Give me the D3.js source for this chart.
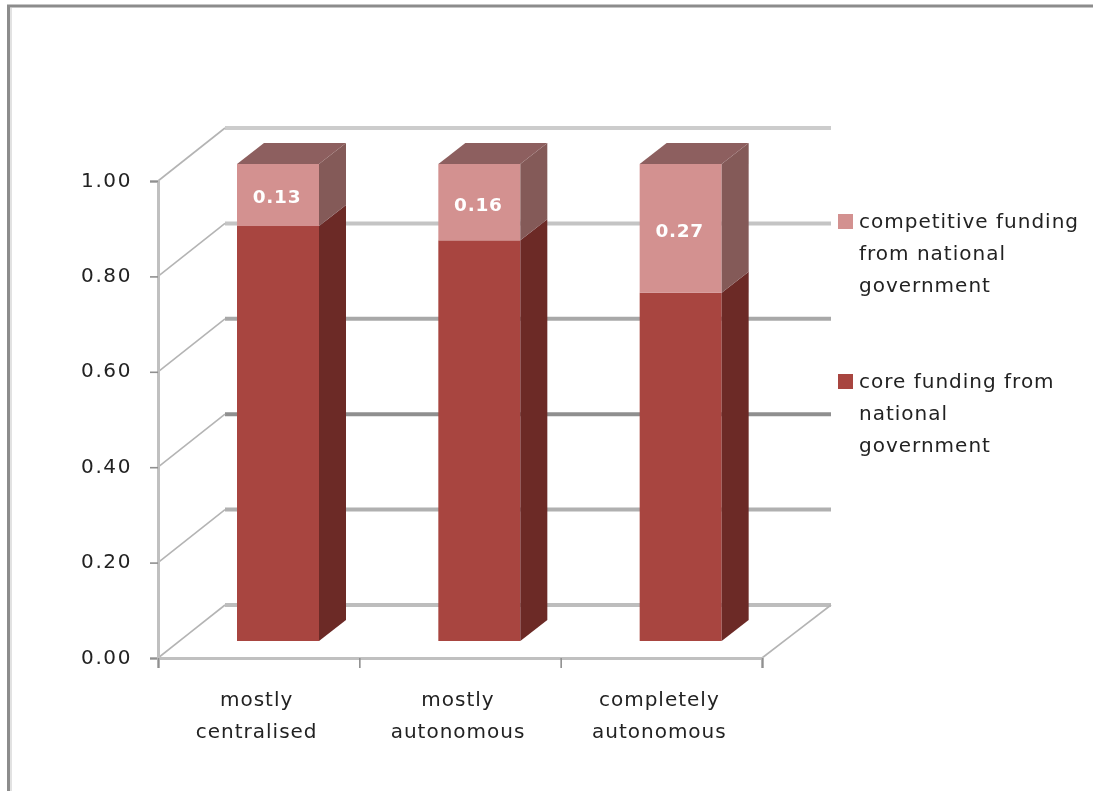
<!DOCTYPE html>
<html><head><meta charset="utf-8">
<script src="https://cdn.jsdelivr.net/npm/d3@7"></script>
<style>html,body{margin:0;padding:0;background:#fff}svg{display:block}text{font-family:"DejaVu Sans",sans-serif;fill:#222}</style>
</head><body><svg id="c" width="1093" height="791"></svg>
<script>
const categories = [["mostly","centralised"],["mostly","autonomous"],["completely","autonomous"]];
const coreFunding = [0.87,0.84,0.73];
const competitiveFunding = [0.13,0.16,0.27];
const yTicks = [0,0.2,0.4,0.6,0.8,1];
const legendCompetitive = ["competitive funding","from national","government"];
const legendCore = ["core funding from","national","government"];
const gridColors = ["#bdbdbd","#b0b0b0","#8f8f8f","#a8a8a8","#c4c4c4","#cccccc"];

const svg = d3.select("#c");
const defs = svg.append("defs");
defs.append("filter").attr("id","soft").attr("x","-5%").attr("y","-5%").attr("width","110%").attr("height","110%")
  .append("feGaussianBlur").attr("stdDeviation",0.5);

// frame
svg.append("path").attr("d","M8.5 791V6H1093").attr("fill","none").attr("stroke","#8c8c8c").attr("stroke-width",3);
svg.append("path").attr("d","M11 791V8").attr("fill","none").attr("stroke","#d8d8d8").attr("stroke-width",1.5);

const y = d3.scaleLinear().domain([0,1]).range([658,181]);
const x = d3.scaleLinear().domain([0,3]).range([158,762]);
const depthX = 67, depthY = -53, barDX = 27, barDY = -21, barInset = 79, barW = 82, barLift = 17;

const root = svg.append("g").attr("filter","url(#soft)");
// back wall gridlines
root.append("g").selectAll("line").data(yTicks).join("line")
  .attr("x1",x(0)+depthX).attr("x2",x(3)+depthX+2)
  .attr("y1",d=>y(d)+depthY).attr("y2",d=>y(d)+depthY)
  .attr("stroke",(d,i)=>gridColors[i]).attr("stroke-width",4);
// side wall diagonals
root.append("g").selectAll("line").data(yTicks).join("line")
  .attr("x1",x(0)).attr("x2",x(0)+depthX)
  .attr("y1",d=>y(d)).attr("y2",d=>y(d)+depthY)
  .attr("stroke","#b4b4b4").attr("stroke-width",1.6);
// floor right edge
root.append("line").attr("x1",x(3)).attr("y1",y(0)).attr("x2",x(3)+depthX+2).attr("y2",y(0)+depthY)
  .attr("stroke","#b4b4b4").attr("stroke-width",1.6);

// axes
const yAxis = d3.axisLeft(y).tickValues(yTicks).tickFormat(d3.format(".2f")).tickSize(8).tickPadding(18);
const yG = root.append("g").attr("transform",`translate(${x(0)},0)`).call(yAxis);
const xAxis = d3.axisBottom(x).tickValues([0,1,2,3]).tickFormat("").tickSize(10);
const xG = root.append("g").attr("transform",`translate(0,${y(0)})`).call(xAxis);
[yG,xG].forEach(g=>{
  g.select(".domain").attr("stroke","#c0c0c0").attr("stroke-width",3);
  g.selectAll(".tick line").attr("stroke","#909090").attr("stroke-width",1.6);
});
yG.selectAll(".tick text").attr("font-size",20).attr("letter-spacing",1.6).attr("dy","0.25em").attr("fill","#222");

// bars
function box(g,x0,yBottom,yTop,front,side,top){
  g.append("rect").attr("x",x0).attr("y",yTop).attr("width",barW).attr("height",yBottom-yTop).attr("fill",front);
  g.append("path").attr("fill",side)
    .attr("d",d3.line()([[x0+barW,yBottom],[x0+barW+barDX,yBottom+barDY],[x0+barW+barDX,yTop+barDY],[x0+barW,yTop]])+"Z");
  if(top) g.append("path").attr("fill",top)
    .attr("d",d3.line()([[x0,yTop],[x0+barDX,yTop+barDY],[x0+barW+barDX,yTop+barDY],[x0+barW,yTop]])+"Z");
}
categories.forEach((c,i)=>{
  const g = root.append("g");
  const x0 = x(i)+barInset;
  const yf = v=>y(v)-barLift;
  box(g,x0,yf(0),yf(coreFunding[i]),"#a8443f","#6c2b28",null);
  box(g,x0,yf(coreFunding[i]),yf(coreFunding[i]+competitiveFunding[i]),"#d39190","#845a59","#8d5f5e");
  g.append("text").attr("x",x0+barW/2-1).attr("y",yf(coreFunding[i]+competitiveFunding[i]/2)+2)
    .attr("dy","0.35em").attr("text-anchor","middle").attr("font-size",18.5).attr("letter-spacing",0.7).attr("font-weight","bold")
    .style("fill","#fff").text(d3.format(".2f")(competitiveFunding[i]));
  const t = root.append("text").attr("text-anchor","middle").attr("font-size",20).attr("letter-spacing",1);
  c.forEach((l,j)=>t.append("tspan").attr("x",x(i)+ (x(i+1)-x(i))/2 - 2).attr("y",706+j*32).text(l));
});

// legend
[[legendCompetitive,"#d39190",214],[legendCore,"#a8443f",374]].forEach(([lines,col,top])=>{
  root.append("rect").attr("x",838).attr("y",top).attr("width",15).attr("height",15).attr("fill",col);
  const t = root.append("text").attr("font-size",20).attr("letter-spacing",1);
  lines.forEach((l,j)=>t.append("tspan").attr("x",859).attr("y",top+14+j*32).text(l));
});
</script></body></html>
